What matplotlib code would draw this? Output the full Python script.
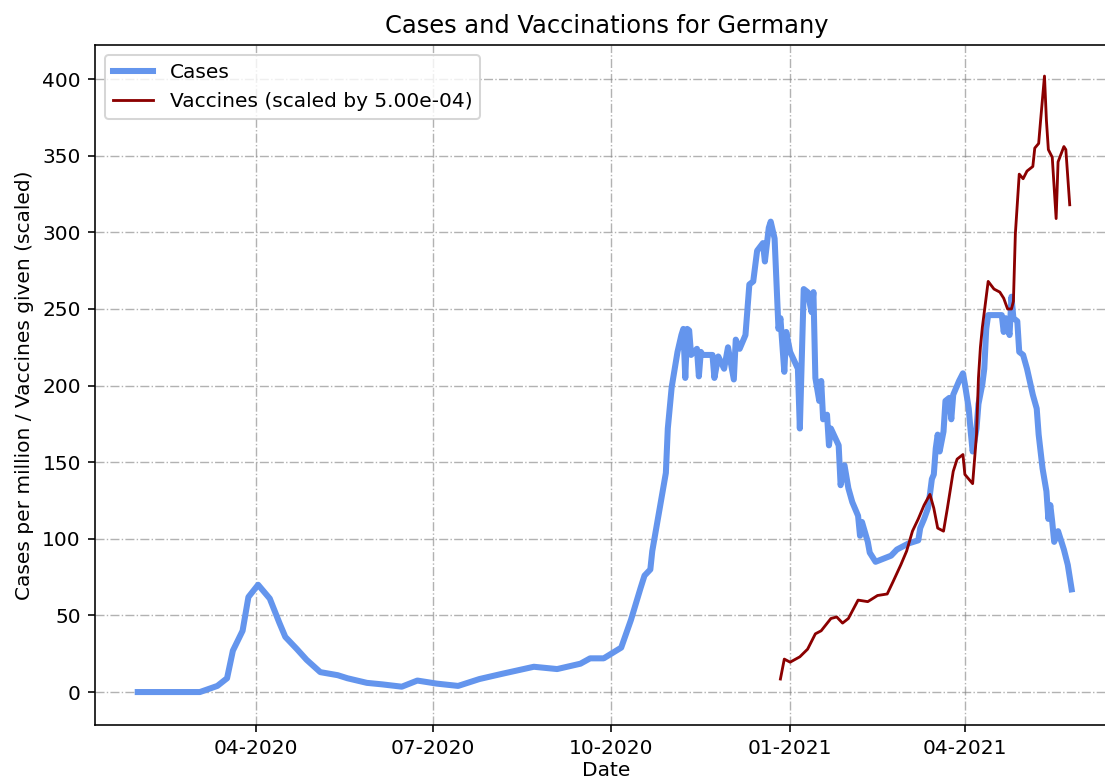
import pandas as pd
import matplotlib
matplotlib.use("Agg")
import matplotlib.pyplot as plt
import matplotlib.dates as mdates

#- Data
case_dates = [
    "2020-01-31", "2020-03-03", "2020-03-12", "2020-03-17", "2020-03-20", "2020-03-25",
    "2020-03-28", "2020-04-02", "2020-04-08", "2020-04-13", "2020-04-16", "2020-04-22",
    "2020-04-27", "2020-05-04", "2020-05-13", "2020-05-18", "2020-05-28", "2020-06-05",
    "2020-06-15", "2020-06-23", "2020-07-03", "2020-07-14", "2020-07-25", "2020-08-06",
    "2020-08-22", "2020-09-03", "2020-09-15", "2020-09-20", "2020-09-27", "2020-10-06",
    "2020-10-11", "2020-10-16", "2020-10-18", "2020-10-21", "2020-10-22", "2020-10-26",
    "2020-10-29", "2020-10-30", "2020-11-01", "2020-11-04", "2020-11-06", "2020-11-07",
    "2020-11-08", "2020-11-09", "2020-11-10", "2020-11-11", "2020-11-14", "2020-11-15",
    "2020-11-16", "2020-11-17", "2020-11-22", "2020-11-23", "2020-11-25", "2020-11-28",
    "2020-11-30", "2020-12-03", "2020-12-04", "2020-12-06", "2020-12-09", "2020-12-11",
    "2020-12-13", "2020-12-15", "2020-12-18", "2020-12-19", "2020-12-21", "2020-12-22",
    "2020-12-24", "2020-12-26", "2020-12-27", "2020-12-29", "2020-12-30", "2021-01-01",
    "2021-01-05", "2021-01-06", "2021-01-08", "2021-01-10", "2021-01-12", "2021-01-13",
    "2021-01-14", "2021-01-16", "2021-01-17", "2021-01-18", "2021-01-20", "2021-01-21",
    "2021-01-22", "2021-01-26", "2021-01-27", "2021-01-29", "2021-01-31", "2021-02-02",
    "2021-02-05", "2021-02-06", "2021-02-07", "2021-02-10", "2021-02-11", "2021-02-14",
    "2021-02-18", "2021-02-22", "2021-02-25", "2021-03-03", "2021-03-08", "2021-03-09",
    "2021-03-11", "2021-03-13", "2021-03-14", "2021-03-15", "2021-03-16", "2021-03-17",
    "2021-03-18", "2021-03-19", "2021-03-21", "2021-03-22", "2021-03-24", "2021-03-25",
    "2021-03-26", "2021-03-29", "2021-03-31", "2021-04-01", "2021-04-03", "2021-04-04",
    "2021-04-05", "2021-04-07", "2021-04-08", "2021-04-10", "2021-04-11", "2021-04-12",
    "2021-04-13", "2021-04-20", "2021-04-21", "2021-04-22", "2021-04-24", "2021-04-25",
    "2021-04-26", "2021-04-28", "2021-04-29", "2021-05-01", "2021-05-03", "2021-05-06",
    "2021-05-08", "2021-05-09", "2021-05-11", "2021-05-13", "2021-05-14", "2021-05-15",
    "2021-05-16", "2021-05-17", "2021-05-19", "2021-05-22", "2021-05-24", "2021-05-26",
]
cases_per_million = [
    0, 0, 4, 9, 27, 40,
    62, 70, 61, 45, 36, 28,
    21, 13, 11, 9, 6, 5,
    3.5, 7.5, 5.5, 4, 8.5, 12,
    16.5, 15, 18.5, 22, 22, 29,
    47, 68, 76, 80, 92, 121,
    143, 172, 199, 222, 233, 237,
    205, 237, 236, 220, 224, 206,
    222, 220, 220, 205, 219, 211,
    225, 204, 230, 224, 233, 266,
    268, 288, 293, 281, 303, 307,
    296, 237, 244, 209, 235, 222,
    211, 172, 263, 261, 248, 261,
    205, 190, 203, 178, 181, 161,
    172, 161, 135, 148, 133, 124,
    115, 102, 111, 98, 91, 85,
    87, 89, 93, 97, 99, 107,
    113, 120, 129, 139, 142, 159,
    168, 157, 170, 190, 192, 178,
    194, 203, 208, 201, 185, 170,
    157, 172, 188, 201, 211, 237,
    246, 246, 235, 244, 233, 258,
    244, 242, 222, 220, 211, 194,
    185, 168, 146, 131, 113, 122,
    111, 98, 105, 93, 83, 67,
]

vacc_dates = [
    "2020-12-27", "2020-12-29", "2021-01-01", "2021-01-06", "2021-01-10", "2021-01-14",
    "2021-01-17", "2021-01-22", "2021-01-25", "2021-01-28", "2021-01-31", "2021-02-05",
    "2021-02-10", "2021-02-15", "2021-02-20", "2021-02-23", "2021-02-27", "2021-03-02",
    "2021-03-05", "2021-03-08", "2021-03-11", "2021-03-14", "2021-03-16", "2021-03-18",
    "2021-03-21", "2021-03-23", "2021-03-26", "2021-03-28", "2021-03-31", "2021-04-01",
    "2021-04-05", "2021-04-07", "2021-04-08", "2021-04-09", "2021-04-10", "2021-04-13",
    "2021-04-16", "2021-04-19", "2021-04-21", "2021-04-23", "2021-04-25", "2021-04-26",
    "2021-04-27", "2021-04-29", "2021-05-01", "2021-05-03", "2021-05-06", "2021-05-07",
    "2021-05-09", "2021-05-10", "2021-05-12", "2021-05-13", "2021-05-14", "2021-05-16",
    "2021-05-18", "2021-05-19", "2021-05-22", "2021-05-23", "2021-05-25",
]
daily_vaccinations = [
    17000, 43000, 39000, 46000, 56000, 76000,
    80000, 96000, 98000, 90000, 96000, 120000,
    118000, 126000, 128000, 144000, 166000, 184000,
    210000, 226000, 244000, 258000, 240000, 214000,
    210000, 240000, 288000, 304000, 310000, 284000,
    272000, 336000, 410000, 450000, 476000, 536000,
    526000, 522000, 514000, 500000, 500000, 510000,
    598000, 676000, 670000, 680000, 686000, 710000,
    716000, 746000, 804000, 746000, 708000, 698000,
    618000, 692000, 712000, 708000, 636000,
]
vacc_scale = 5e-4

cases = pd.Series(cases_per_million, index=pd.to_datetime(case_dates))
vaccines = pd.Series(daily_vaccinations, index=pd.to_datetime(vacc_dates)) * vacc_scale

#- Plot graph:
dpi = 145
fig = plt.figure(figsize=(1105 / dpi, 782 / dpi), dpi=dpi)
ax = fig.add_axes([0.086, 0.0729, 0.926, 0.870])
ax.plot(cases.index, cases.values, color="cornflowerblue", lw=3, label="Cases")
ax.plot(vaccines.index, vaccines.values, color="darkred", lw=1.4,
        label="Vaccines (scaled by %.2e)" % vacc_scale)

ax.xaxis.set_major_locator(mdates.MonthLocator(bymonth=[1, 4, 7, 10]))
ax.xaxis.set_major_formatter(mdates.DateFormatter("%m-%Y"))
ax.set_xlim(pd.Timestamp("2020-01-09"), pd.Timestamp("2021-06-19"))
ax.set_ylim(-21.5, 422.5)
ax.grid(True, linestyle="-.", color="gray", alpha=0.6, lw=0.7)

ax.set_title("Cases and Vaccinations for Germany")
ax.set_xlabel("Date", labelpad=1.5)
ax.set_ylabel("Cases per million / Vaccines given (scaled)")
ax.legend(loc="upper left")

fig.savefig("out.png", dpi=dpi)
